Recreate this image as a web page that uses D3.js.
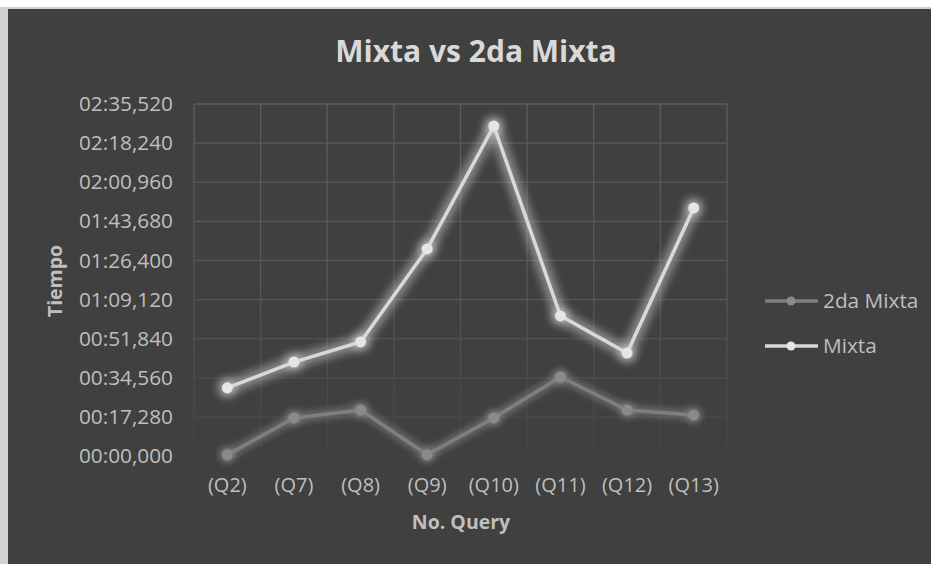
<!DOCTYPE html>
<html><head><meta charset="utf-8">
<script src="https://cdn.jsdelivr.net/npm/d3@7"></script>
<style>html,body{margin:0;padding:0;background:#fff;}svg{display:block;}</style>
</head><body>
<script>
const categories = ["(Q2)","(Q7)","(Q8)","(Q9)","(Q10)","(Q11)","(Q12)","(Q13)"];
// values in seconds
const mixta = [30.1, 41.5, 50.4, 91.5, 145.8, 61.9, 45.5, 109.6];
const segundaMixta = [0.5, 16.8, 20.3, 0.6, 16.8, 34.9, 20.3, 18.1];
const yTicks = [0, 17.28, 34.56, 51.84, 69.12, 86.4, 103.68, 120.96, 138.24, 155.52];
const seriesNames = ["2da Mixta", "Mixta"];

(function(){
const W = 931, H = 564;
const FONT = "'Open Sans', sans-serif";
const svg = d3.select("body").append("svg").attr("width", W).attr("height", H);
const defs = svg.append("defs");
function mkGlow(id, sd){
  const f = defs.append("filter").attr("id",id).attr("x","-50%").attr("y","-50%").attr("width","200%").attr("height","200%");
  f.append("feGaussianBlur").attr("in","SourceGraphic").attr("stdDeviation",sd).attr("result","b");
  const mm = f.append("feMerge");
  mm.append("feMergeNode").attr("in","b");
  mm.append("feMergeNode").attr("in","b");
  mm.append("feMergeNode").attr("in","SourceGraphic");
}
mkGlow("glow", 6);
mkGlow("glow2", 4);

// frame
svg.append("rect").attr("x",0).attr("y",0).attr("width",W).attr("height",H).attr("fill","#ffffff");
svg.append("rect").attr("x",0).attr("y",7).attr("width",W).attr("height",H).attr("fill","#d0d0d0");
svg.append("rect").attr("x",8).attr("y",9).attr("width",W).attr("height",H).attr("fill","#404040");

const pl = 194, pr = 727, pt = 104, pb = 456;
const x = d3.scaleBand().domain(categories).range([pl, pr]);
const y = d3.scaleLinear().domain([0, 155.52]).range([pb, pt]);

const grad = defs.append("linearGradient").attr("id","gridgrad").attr("gradientUnits","userSpaceOnUse")
  .attr("x1",0).attr("y1",pt).attr("x2",0).attr("y2",pb+2);
grad.append("stop").attr("offset","0").attr("stop-color","#5c5c5c");
grad.append("stop").attr("offset","0.55").attr("stop-color","#555555");
grad.append("stop").attr("offset","1").attr("stop-color","#434343");

const fmt = v => {
  const ms = Math.round(v*1000);
  const mm = Math.floor(ms/60000);
  const ss = Math.floor((ms%60000)/1000);
  const r = ms%1000;
  return String(mm).padStart(2,"0")+":"+String(ss).padStart(2,"0")+","+String(r).padStart(3,"0");
};

const g = svg.append("g");
g.selectAll("line.h").data(yTicks).join("line").attr("class","h")
  .attr("x1",pl).attr("x2",pr).attr("y1",d=>y(d)).attr("y2",d=>y(d))
  .attr("stroke","url(#gridgrad)").attr("stroke-width",1.3);
const vx = categories.map(c=>x(c)).concat([pr]);
g.selectAll("line.v").data(vx).join("line").attr("class","v")
  .attr("x1",d=>d).attr("x2",d=>d).attr("y1",pt).attr("y2",pb)
  .attr("stroke","url(#gridgrad)").attr("stroke-width",1.3);

const yAxis = d3.axisLeft(y).tickValues(yTicks).tickFormat(fmt).tickSize(0).tickPadding(21);
const ya = svg.append("g").attr("transform",`translate(${pl},0)`).call(yAxis);
ya.select(".domain").remove();
ya.selectAll("text").attr("fill","#bfbfbf").style("font-family",FONT).style("font-size","20.8px");

const xAxis = d3.axisBottom(x).tickSize(0).tickPadding(22);
const xa = svg.append("g").attr("transform",`translate(0,${pb})`).call(xAxis);
xa.select(".domain").remove();
xa.selectAll("text").attr("fill","#bfbfbf").style("font-family",FONT).style("font-size","20px");

const cx = c => x(c) + x.bandwidth()/2;
const line = d3.line().x((d,i)=>cx(categories[i])).y(d=>y(d));

const s2 = svg.append("g").attr("filter","url(#glow2)");
s2.append("path").datum(segundaMixta).attr("d",line).attr("fill","none").attr("stroke","#7f7f7f").attr("stroke-width",3.5);
s2.selectAll("circle").data(segundaMixta).join("circle").attr("cx",(d,i)=>cx(categories[i])).attr("cy",d=>y(d)).attr("r",5.5).attr("fill","#8a8a8a");

const s1 = svg.append("g").attr("filter","url(#glow)");
s1.append("path").datum(mixta).attr("d",line).attr("fill","none").attr("stroke","#d9d9d9").attr("stroke-width",3.5);
s1.selectAll("circle").data(mixta).join("circle").attr("cx",(d,i)=>cx(categories[i])).attr("cy",d=>y(d)).attr("r",5.5).attr("fill","#e6e6e6");

svg.append("text").attr("x",476).attr("y",62).attr("text-anchor","middle")
  .attr("fill","#d9d9d9").style("font-family",FONT).style("font-weight","bold").style("font-size","30px")
  .text("Mixta vs 2da Mixta");

svg.append("text").attr("transform","translate(62,281) rotate(-90)").attr("text-anchor","middle")
  .attr("fill","#bfbfbf").style("font-family",FONT).style("font-weight","bold").style("font-size","19.5px")
  .text("Tiempo");
svg.append("text").attr("x",461).attr("y",529).attr("text-anchor","middle")
  .attr("fill","#bfbfbf").style("font-family",FONT).style("font-weight","bold").style("font-size","19.5px")
  .text("No. Query");

const legY = [301, 346];
const legColors = ["#7f7f7f","#d9d9d9"];
const lg = svg.append("g");
seriesNames.forEach((n,i)=>{
  lg.append("line").attr("x1",765).attr("x2",818).attr("y1",legY[i]).attr("y2",legY[i]).attr("stroke",legColors[i]).attr("stroke-width",3.5);
  lg.append("circle").attr("cx",791).attr("cy",legY[i]).attr("r",4.5).attr("fill",i===0?"#8a8a8a":"#e6e6e6");
  lg.append("text").attr("x",823).attr("y",legY[i]+7).attr("fill","#bfbfbf").style("font-family",FONT).style("font-size","20.8px").text(n);
});
})();
</script>
</body></html>
